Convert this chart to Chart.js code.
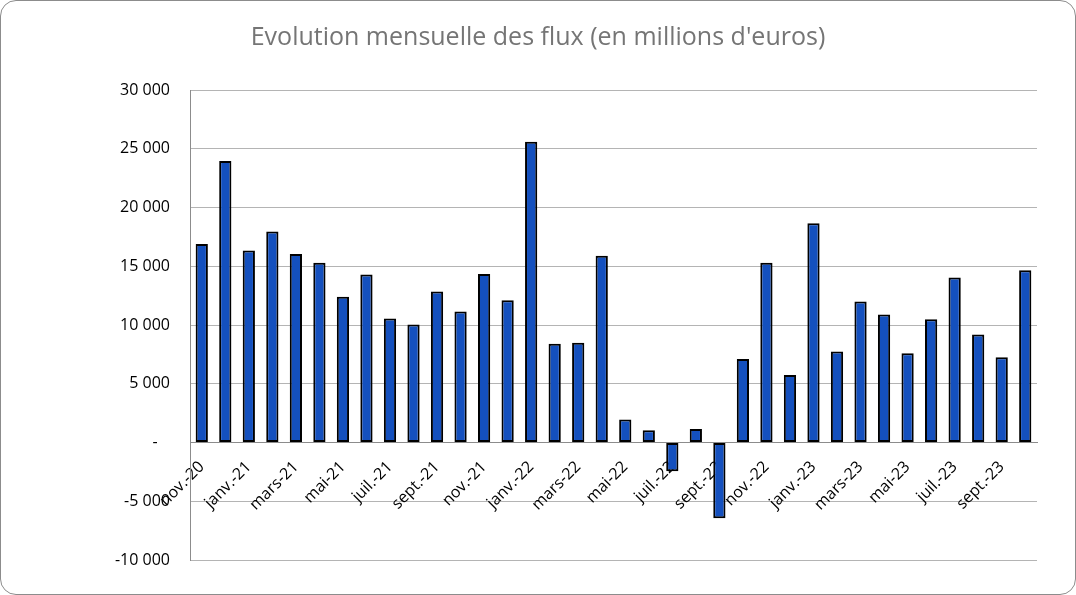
<!DOCTYPE html>
<html>
<head>
<meta charset="utf-8">
<script src="https://cdn.jsdelivr.net/npm/chart.js@4"></script>
<style>
    html, body { margin: 0; padding: 0; background: #fff; }
    .chart-box {
        box-sizing: border-box;
        width: 1076px;
        height: 595px;
        border: 1px solid #8c8c8c;
        border-radius: 16px;
        overflow: hidden;
        position: relative;
    }
</style>
</head>
<body>
<div class="chart-box">
    <canvas id="flux-chart"></canvas>
</div>
<script>
// months, nov.-20 .. oct.-23
const months = [
    'nov.-20', 'déc.-20',
    'janv.-21', 'févr.-21', 'mars-21', 'avr.-21', 'mai-21', 'juin-21',
    'juil.-21', 'août-21', 'sept.-21', 'oct.-21', 'nov.-21', 'déc.-21',
    'janv.-22', 'févr.-22', 'mars-22', 'avr.-22', 'mai-22', 'juin-22',
    'juil.-22', 'août-22', 'sept.-22', 'oct.-22', 'nov.-22', 'déc.-22',
    'janv.-23', 'févr.-23', 'mars-23', 'avr.-23', 'mai-23', 'juin-23',
    'juil.-23', 'août-23', 'sept.-23', 'oct.-23'
];

// flux mensuels, millions d'euros
const flux = [
    16900, 23950,
    16350, 17950, 16050, 15300, 12400, 14300,
    10550, 10050, 12850, 11150, 14350, 12100,
    25600, 8400, 8500, 15900, 1950, 1050,
    -2450, 1150, -6450, 7100, 15300, 5750,
    18650, 7750, 12000, 10900, 7600, 10500,
    14050, 9200, 7250, 14650
];

const yMin = -10000;
const yMax = 30000;
const yStep = 5000;

const titleText = "Evolution mensuelle des flux (en millions d'euros)";

const formatThousands = function (v) {
    if (v === 0) {
        return '-   ';
    }
    const s = String(Math.abs(v)).replace(/\B(?=(\d{3})+(?!\d))/g, ' ');
    return (v < 0 ? '-' : '') + s;
};

const tickFont = { family: '"Open Sans", sans-serif', size: 16 };

new Chart(document.getElementById('flux-chart'), {
    type: 'bar',
    data: {
        labels: months,
        datasets: [
            {
                label: 'flux',
                data: flux,
                backgroundColor: '#1450be',
                borderColor: '#000000',
                borderWidth: 2,
                borderSkipped: false,
                categoryPercentage: 1,
                barPercentage: 0.52
            }
        ]
    },
    options: {
        responsive: true,
        maintainAspectRatio: false,
        animation: false,
        layout: {
            padding: { left: 0, right: 0, top: 0, bottom: 34 }
        },
        plugins: {
            legend: { display: false },
            tooltip: { enabled: false },
            title: {
                display: true,
                text: titleText,
                color: '#757575',
                font: { family: '"Open Sans", sans-serif', size: 25, weight: 'normal' },
                padding: { top: 22, bottom: 37 }
            }
        },
        scales: {
            x: {
                position: { y: 0 },
                offset: true,
                grid: { display: false, drawTicks: false },
                border: { display: true, color: '#8c8c8c', width: 1 },
                ticks: {
                    autoSkip: false,
                    minRotation: 45,
                    maxRotation: 45,
                    padding: 15,
                    color: '#000000',
                    font: tickFont,
                    callback: function (value, index) {
                        return (index % 2 === 0) ? this.getLabelForValue(value) : '';
                    }
                }
            },
            y: {
                min: yMin,
                max: yMax,
                grid: { color: '#b4b4b4', drawTicks: false },
                border: { display: true, color: '#8c8c8c', width: 1 },
                afterFit: function (scale) {
                    scale.width = 189;
                },
                ticks: {
                    stepSize: yStep,
                    padding: 20,
                    color: '#000000',
                    font: tickFont,
                    callback: function (value) {
                        return formatThousands(value);
                    }
                }
            },
            // empty right margin, keeps the title centred on the whole frame
            yRight: {
                position: 'right',
                min: 0,
                max: 1,
                grid: { display: false, drawTicks: false },
                border: { display: false },
                ticks: { display: false },
                afterFit: function (scale) {
                    scale.width = 38;
                }
            }
        }
    }
});
</script>
</body>
</html>
